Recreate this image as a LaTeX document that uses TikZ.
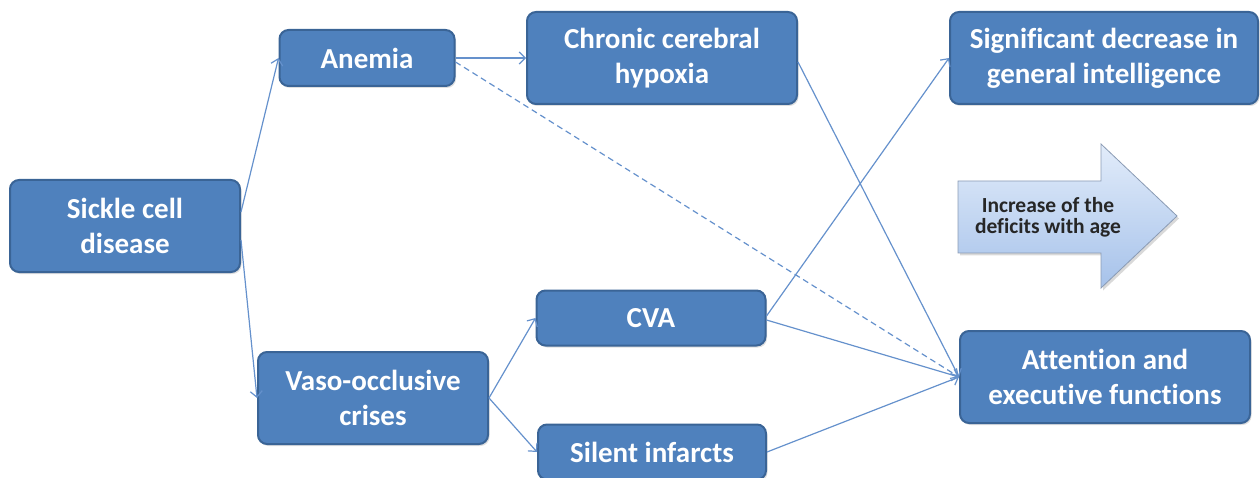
\documentclass[tikz,border=0pt]{standalone}
\usepackage{fontspec}
\setmainfont[Ligatures=NoCommon]{Carlito}
\usetikzlibrary{arrows.meta,shadows}
\definecolor{boxfill}{HTML}{4F81BD}
\definecolor{boxedge}{HTML}{3A6496}
\definecolor{linkcol}{HTML}{6591CC}
\definecolor{arrtop}{HTML}{E2ECFA}
\definecolor{arrbot}{HTML}{A6C2EA}
\definecolor{arredge}{HTML}{8A9BB4}
\tikzset{
  box/.style={draw=boxedge, line width=2pt, fill=boxfill, rounded corners=9pt,
    text=white, align=center, inner sep=0pt,
    font=\fontsize{29}{35}\selectfont\bfseries,
    drop shadow={shadow xshift=1.5pt, shadow yshift=-2pt, opacity=0.25}},
  link/.style={draw=linkcol, line width=1.2pt,
    -{Straight Barb[length=6pt,width=12pt,line width=1.2pt]}},
  dlink/.style={link, dash pattern=on 6pt off 4pt},
}
\begin{document}
\begin{tikzpicture}[x=1pt,y=-1pt]
\useasboundingbox (0,0) rectangle (1260,478);

% process boxes
\node[box, minimum width=230pt, minimum height=92pt] (scd) at (125,226) {Sickle cell\\disease};
\node[box, minimum width=175pt, minimum height=56pt] (anemia) at (367,58) {Anemia};
\node[box, minimum width=270pt, minimum height=92pt] (hypoxia) at (662,58) {Chronic cerebral\\hypoxia};
\node[box, minimum width=308pt, minimum height=92pt] (intel) at (1104,58) {Significant decrease in\\general intelligence};
\node[box, minimum width=229pt, minimum height=55pt] (cva) at (651,318) {CVA};
\node[box, minimum width=230pt, minimum height=92pt] (voc) at (373,398) {Vaso-occlusive\\crises};
\node[box, minimum width=228pt, minimum height=55pt] (silent) at (652,452) {Silent infarcts};
\node[box, minimum width=290pt, minimum height=92pt] (attn) at (1105,377) {Attention and\\executive functions};

% block arrow with age note
\path[draw=arredge, line width=0.8pt, top color=arrtop, bottom color=arrbot,
  drop shadow={shadow xshift=2pt, shadow yshift=-2.5pt, opacity=0.3}]
  (958,181) -- (1101,181) -- (1101,144) -- (1177,216) -- (1101,288)
  -- (1101,253) -- (958,253) -- cycle;
\node[font=\fontsize{21.5}{21}\selectfont\bfseries, text=black!85, align=center]
  (age) at (1048,217) {Increase of the\\deficits with age};

% connectors
\draw[link] ([yshift=14pt]scd.east) -- (anemia.west);
\draw[link] ([yshift=-14pt]scd.east) -- (voc.west);
\draw[link] (anemia.east) -- (hypoxia.west);
\draw[dlink] ([yshift=-4pt]anemia.east) -- (attn.west);
\draw[link] ([yshift=-4pt]hypoxia.east) -- (attn.west);
\draw[link] ([yshift=2pt]cva.east) -- (intel.west);
\draw[link] ([yshift=-2pt]cva.east) -- (attn.west);
\draw[link] (voc.east) -- (cva.west);
\draw[link] (voc.east) -- (silent.west);
\draw[link] (silent.east) -- (attn.west);
\end{tikzpicture}
\end{document}
